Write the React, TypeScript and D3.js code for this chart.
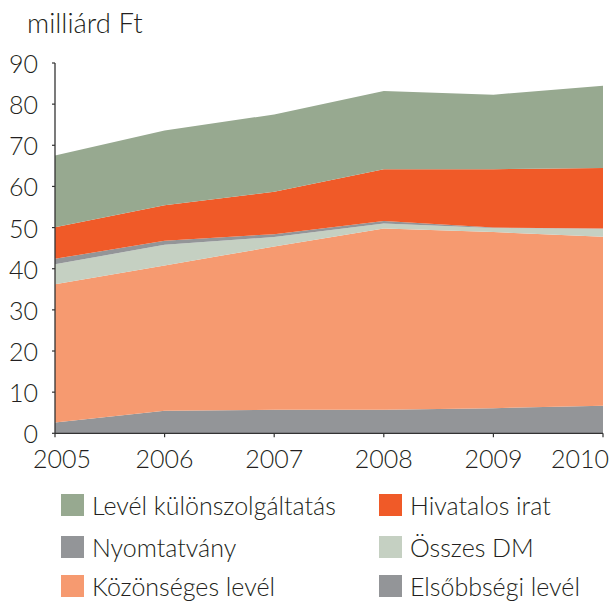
import React from "react";
import * as d3 from "d3";

const years = ["2005", "2006", "2007", "2008", "2009", "2010"];

// stacking order: bottom to top
const elsobbsegi = [2.6, 5.5, 5.7, 5.7, 6.1, 6.7];
const kozonseges = [33.6, 35.3, 39.7, 44.1, 42.8, 41.1];
const osszesDM = [4.9, 5.0, 2.3, 1.2, 1.0, 1.9];
const nyomtatvany = [1.3, 1.0, 0.7, 0.6, 0.1, 0.1];
const hivatalos = [7.7, 8.6, 10.3, 12.6, 14.2, 14.7];
const kulonszolg = [17.4, 18.2, 18.8, 19.0, 18.1, 20.0];

const yTicks = [0, 10, 20, 30, 40, 50, 60, 70, 80, 90];

const series = [
  { key: "elsobbsegi", name: "Elsőbbségi levél", values: elsobbsegi, color: "#939598" },
  { key: "kozonseges", name: "Közönséges levél", values: kozonseges, color: "#f69a70" },
  { key: "dm", name: "Összes DM", values: osszesDM, color: "#c5d0c2" },
  { key: "nyomtatvany", name: "Nyomtatvány", values: nyomtatvany, color: "#939598" },
  { key: "hivatalos", name: "Hivatalos irat", values: hivatalos, color: "#f05a28" },
  { key: "kulonszolg", name: "Levél különszolgáltatás", values: kulonszolg, color: "#97a990" },
];

// legend layout: [series key, column, row]
const legendItems: [string, number, number][] = [
  ["kulonszolg", 0, 0],
  ["hivatalos", 1, 0],
  ["nyomtatvany", 0, 1],
  ["dm", 1, 1],
  ["kozonseges", 0, 2],
  ["elsobbsegi", 1, 2],
];

const W = 611;
const H = 602;
const FONT = "Lato, 'Noto Sans', sans-serif";
const TEXT = "#231f20";

export default function App() {
  const x = d3.scalePoint<string>().domain(years).range([55, 603]);
  const y = d3.scaleLinear().domain([0, 90]).range([433.3, 63]);

  const table = years.map((yr, i) => {
    const row: any = { year: yr };
    series.forEach((s) => (row[s.key] = s.values[i]));
    return row;
  });

  const stacked = d3.stack<any>().keys(series.map((s) => s.key))(table);

  const area = d3
    .area<any>()
    .x((d) => x(d.data.year) as number)
    .y0((d) => y(d[0]))
    .y1((d) => y(d[1]));

  const legendX = [61, 379];
  const legendY = [494, 536, 575];

  return (
    <div style={{ position: "absolute", left: 0, top: 0 }}>
      <svg width={W} height={H} style={{ display: "block", fontFamily: FONT, fontWeight: 300 }}>
        <rect width={W} height={H} fill="#fff" />
        <text x={27} y={33} fontSize={27.5} fill={TEXT}>
          milliárd Ft
        </text>

        {stacked.map((layer, i) => (
          <path key={layer.key} d={area(layer) || ""} fill={series[i].color} />
        ))}

        {/* y axis */}
        <line x1={55} x2={55} y1={y(90)} y2={y(0)} stroke="#333" strokeWidth={1.3} />
        {yTicks.map((t) => (
          <g key={t}>
            <line x1={52} x2={55} y1={y(t)} y2={y(t)} stroke="#333" strokeWidth={1.2} />
            <text
              x={38}
              y={y(t)}
              textAnchor="end"
              dominantBaseline="central"
              fontSize={25}
              fill={TEXT}
            >
              {t}
            </text>
          </g>
        ))}

        {/* x axis */}
        <line x1={55} x2={603} y1={y(0)} y2={y(0)} stroke="#333" strokeWidth={1.3} />
        {years.map((yr, i) => {
          const px = x(yr) as number;
          let anchor = "middle";
          let tx = px;
          if (i === 0) {
            anchor = "start";
            tx = 33;
          } else if (i === years.length - 1) {
            anchor = "end";
            tx = 609;
          }
          return (
            <g key={yr}>
              <line x1={px} x2={px} y1={y(0)} y2={y(0) + 4} stroke="#333" strokeWidth={1.2} />
              <text x={tx} y={468} textAnchor={anchor} fontSize={25} fill={TEXT}>
                {yr}
              </text>
            </g>
          );
        })}

        {/* legend */}
        {legendItems.map(([key, col, row]) => {
          const s = series.find((d) => d.key === key)!;
          return (
            <g key={key}>
              <rect x={legendX[col]} y={legendY[row]} width={23} height={22} fill={s.color} />
              <text x={legendX[col] + 31} y={legendY[row] + 21} fontSize={25} fill={TEXT}>
                {s.name}
              </text>
            </g>
          );
        })}
      </svg>
    </div>
  );
}
